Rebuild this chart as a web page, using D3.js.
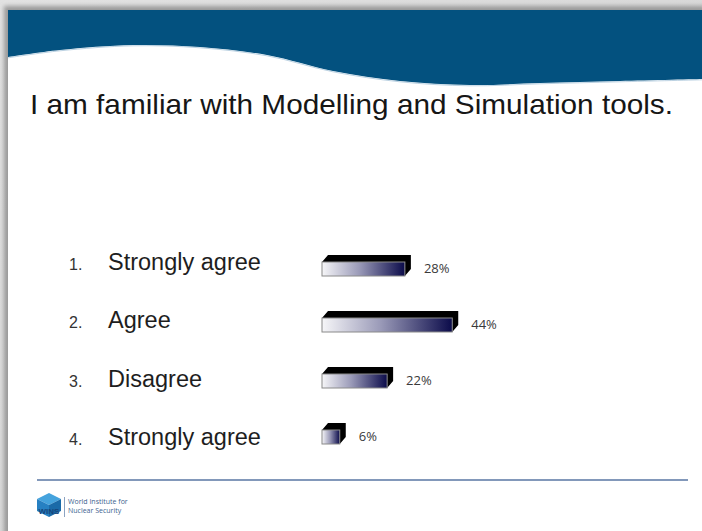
<!DOCTYPE html>
<html>
<head>
<meta charset="utf-8">
<script src="https://cdn.jsdelivr.net/npm/d3@7"></script>
<style>
  html, body { margin: 0; padding: 0; background: #ffffff; }
  svg { display: block; }
</style>
</head>
<body>
<svg id="chart" width="702" height="531"></svg>
<script>
// Survey answers and their shares
const numbers = ["1.", "2.", "3.", "4."];
const answers = ["Strongly agree", "Agree", "Disagree", "Strongly agree"];
const shares = [28, 44, 22, 6];
const shareLabels = ["28%", "44%", "22%", "6%"];
const title = "I am familiar with Modelling and Simulation tools.";

const W = 702, H = 531;
const svg = d3.select("#chart");
const defs = svg.append("defs");

// slide frame shadow
const bgGrad = defs.append("linearGradient").attr("id", "frameShade")
  .attr("x1", 0).attr("y1", 0).attr("x2", 1).attr("y2", 1);
bgGrad.append("stop").attr("offset", "0%").attr("stop-color", "#e2e2e2");
bgGrad.append("stop").attr("offset", "100%").attr("stop-color", "#cfcfcf");
svg.append("rect").attr("width", W).attr("height", H).attr("fill", "url(#frameShade)");

const blur = defs.append("filter").attr("id", "soft").attr("x", "-5%").attr("y", "-5%")
  .attr("width", "110%").attr("height", "110%");
blur.append("feGaussianBlur").attr("stdDeviation", 2.2);
svg.append("rect").attr("x", 4).attr("y", 6).attr("width", W).attr("height", H)
  .attr("fill", "#9a9a9a").attr("filter", "url(#soft)");

const slideX = 8, slideY = 10;
svg.append("rect").attr("x", slideX).attr("y", slideY).attr("width", W - slideX).attr("height", H - slideY)
  .attr("fill", "#ffffff");

// header band with wave
const wave = [[slideX, 57], [60, 50], [133, 45], [200, 47], [267, 55], [333, 71], [400, 81], [470, 85], [540, 83], [620, 81], [702, 79]];
const waveLine = d3.line().curve(d3.curveCatmullRom.alpha(0.5));
const bandPath = "M" + slideX + "," + slideY + "L" + W + "," + slideY + "L" + W + ",79" +
  waveLine(wave.slice().reverse()).replace(/^M/, "L") + "Z";
svg.append("path").attr("d", bandPath).attr("fill", "#03517f");
svg.append("path").attr("d", waveLine(wave)).attr("fill", "none")
  .attr("stroke", "#8fb4cf").attr("stroke-width", 1).attr("opacity", 0.6)
  .attr("transform", "translate(0,0.8)");

// title
svg.append("text")
  .attr("x", 30).attr("y", 114)
  .attr("font-family", "Liberation Sans, Arial, sans-serif")
  .attr("font-size", 28.5)
  .attr("fill", "#161616")
  .attr("textLength", 643).attr("lengthAdjust", "spacingAndGlyphs")
  .text(title);

// scales: bars and answer text rows
const x = d3.scaleLinear().domain([0, 50]).range([322, 322 + 50 * 2.96]);
const y = d3.scaleBand().domain(d3.range(answers.length)).range([241, 465]);
const yText = d3.scalePoint().domain(d3.range(answers.length)).range([270, 445]);
const barH = 14, dx = 6, dy = 7;

// front face gradient, light to navy
const fg = defs.append("linearGradient").attr("id", "frontFill")
  .attr("x1", 0).attr("y1", 0).attr("x2", 1).attr("y2", 0);
fg.append("stop").attr("offset", "0%").attr("stop-color", "#f6f6f8");
fg.append("stop").attr("offset", "45%").attr("stop-color", "#9a9ab8");
fg.append("stop").attr("offset", "100%").attr("stop-color", "#0b0b4a");

// item numbers and answer texts
const labels = svg.append("g").selectAll("g").data(answers).join("g")
  .attr("transform", (d, i) => `translate(0,${yText(i)})`);
labels.append("text")
  .attr("x", 69).attr("y", 0)
  .attr("font-family", "Liberation Sans, Arial, sans-serif")
  .attr("font-size", 16).attr("fill", "#333")
  .text((d, i) => numbers[i]);
labels.append("text")
  .attr("x", 108).attr("y", 0)
  .attr("font-family", "Liberation Sans, Arial, sans-serif")
  .attr("font-size", 23.5).attr("fill", "#1e1e1e")
  .text(d => d);

const rows = svg.append("g").selectAll("g").data(shares).join("g")
  .attr("transform", (d, i) => `translate(0,${y(i) + y.bandwidth() / 2})`);

// 3D bars: top, right side, front
const x0 = x(0);
rows.append("path")
  .attr("d", d => {
    const x1 = x(d), t = -barH / 2;
    return `M${x0},${t}L${x0 + dx},${t - dy}L${x1 + dx},${t - dy}L${x1 + dx},${t + barH - dy}L${x1},${t + barH}L${x1},${t}Z`;
  })
  .attr("fill", "#000");
rows.append("rect")
  .attr("x", x0).attr("y", -barH / 2)
  .attr("width", d => x(d) - x0).attr("height", barH)
  .attr("fill", "url(#frontFill)")
  .attr("stroke", "#8a8a8a").attr("stroke-width", 1);

// value labels
rows.append("text")
  .attr("x", d => x(d) + dx + 13).attr("y", 4)
  .attr("font-family", "Open Sans, sans-serif")
  .attr("font-size", 13).attr("fill", "#3a3a3a")
  .text((d, i) => shareLabels[i]);

// footer rule
svg.append("line").attr("x1", 37).attr("x2", 688).attr("y1", 480).attr("y2", 480)
  .attr("stroke", "#5876a3").attr("stroke-width", 1.6);

// footer logo: cube mark
const logo = svg.append("g").attr("transform", "translate(37,493)");
logo.append("path").attr("d", "M12,0L24,6L12,12L0,6Z").attr("fill", "#45a3dd");
logo.append("path").attr("d", "M0,6L12,12L12,24L0,18Z").attr("fill", "#2680c2");
logo.append("path").attr("d", "M12,12L24,6L24,18L12,24Z").attr("fill", "#1a6aa8");
logo.append("text").attr("x", 12).attr("y", 21).attr("text-anchor", "middle")
  .attr("font-family", "Liberation Sans, Arial, sans-serif").attr("font-weight", "bold")
  .attr("font-size", 8).attr("fill", "#17457a").text("WINS");
svg.append("line").attr("x1", 64.5).attr("x2", 64.5).attr("y1", 497).attr("y2", 517)
  .attr("stroke", "#6f8cb3").attr("stroke-width", 0.8);
svg.append("text").attr("x", 68).attr("y", 504)
  .attr("font-family", "Open Sans, sans-serif").attr("font-size", 7).attr("fill", "#3d5f8f")
  .text("World Institute for");
svg.append("text").attr("x", 68).attr("y", 513)
  .attr("font-family", "Open Sans, sans-serif").attr("font-size", 7).attr("fill", "#3d5f8f")
  .text("Nuclear Security");
</script>
</body>
</html>
